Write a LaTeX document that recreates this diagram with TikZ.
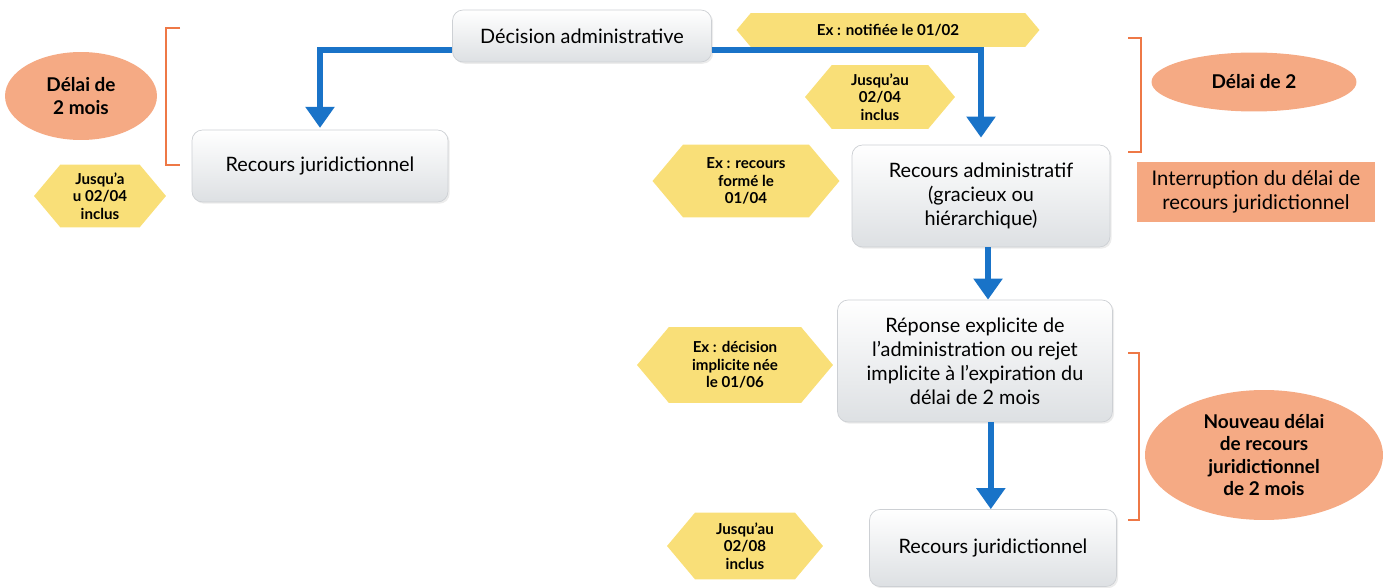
\documentclass[tikz,border=0pt]{standalone}
\usepackage{fontspec}
\setmainfont{Lato}
\usetikzlibrary{shapes.geometric,shapes.symbols,arrows.meta,shadows}
\definecolor{jaune}{HTML}{F9DF78}
\definecolor{saumon}{HTML}{F5AA84}
\definecolor{orangeb}{HTML}{EE7846}
\definecolor{bleu}{HTML}{1973C8}
\definecolor{grisb}{HTML}{DDE0E3}
\definecolor{grisc}{HTML}{CDD0D4}
\begin{document}
\begin{tikzpicture}[x=0.02cm, y=-0.02cm,
    etape/.style={rectangle, rounded corners=6pt, draw=grisc, top color=white, bottom color=grisb,
        drop shadow={shadow xshift=1pt, shadow yshift=-1pt, opacity=0.15},
        align=center, font=\fontsize{11.3}{13.6}\selectfont, inner sep=2pt},
    exemple/.style={signal, signal to=west and east, signal pointer angle=100, fill=jaune,
        align=center, font=\bfseries\fontsize{8.6}{10}\selectfont, inner sep=1pt},
    delai/.style={ellipse, fill=saumon, align=center, font=\bfseries\fontsize{10.8}{12.6}\selectfont, inner sep=0pt},
    fleche/.style={draw=bleu, line width=3.4pt, -{Triangle[width=16pt,length=12pt]}},
    crochet/.style={draw=orangeb, line width=1.4pt}]
    \useasboundingbox (0,0) rectangle (1384,588);
    % etapes
    \node[etape, minimum width=5.18cm, minimum height=1.04cm] (dec) at (582,36) {Décision administrative};
    \node[etape, minimum width=5.12cm, minimum height=1.44cm] (rjl) at (320,166) {Recours juridictionnel};
    \node[etape, minimum width=5.16cm, minimum height=2.04cm] (radm) at (981,196) {Recours administratif\\(gracieux ou\\hiérarchique)};
    \node[etape, minimum width=5.5cm, minimum height=2.44cm] (rep) at (975,361) {Réponse explicite de\\l’administration ou rejet\\implicite à l’expiration du\\délai de 2 mois};
    \node[etape, minimum width=4.94cm, minimum height=1.54cm] (rjb) at (993,548) {Recours juridictionnel};
    % exemples
    \node[exemple, minimum width=6.06cm, minimum height=0.68cm] (hnot) at (888,30) {Ex : notifiée le 01/02};
    \node[exemple, minimum width=3.0cm, minimum height=1.28cm] (hjqa) at (880,97) {Jusqu’au\\02/04\\inclus};
    \node[exemple, minimum width=2.64cm, minimum height=1.26cm] (hjql) at (100,196) {Jusqu’a\\u 02/04\\inclus};
    \node[exemple, minimum width=3.74cm, minimum height=1.46cm] (hform) at (746,181) {Ex : recours\\formé le\\01/04};
    \node[exemple, minimum width=3.92cm, minimum height=1.52cm] (himp) at (735,365) {Ex : décision\\implicite née\\le 01/06};
    \node[exemple, minimum width=3.12cm, minimum height=1.34cm] (hjqb) at (745,546) {Jusqu’au\\02/08\\inclus};
    % delais
    \node[delai, minimum width=3.04cm, minimum height=1.76cm] (dgauche) at (81,96) {Délai de\\2 mois};
    \node[delai, minimum width=4.1cm, minimum height=1.18cm] (ddroite) at (1254,82) {Délai de 2};
    \node[delai, minimum width=4.76cm, minimum height=2.6cm] (dnouv) at (1264,455) {Nouveau délai\\de recours\\juridictionnel\\de 2 mois};
    \node[rectangle, fill=saumon!95!orangeb, minimum width=4.76cm, minimum height=1.2cm, align=center,
        font=\fontsize{11.5}{14}\selectfont] (intr) at (1256,192) {Interruption du délai de\\recours juridictionnel};
    % fleches
    \draw[fleche] ([yshift=-8pt]dec.east) -| ([yshift=4pt]radm.north);
    \draw[fleche] ([yshift=-8pt]dec.west) -| ([yshift=1pt]rjl.north);
    \draw[fleche] ([xshift=4pt]radm.south) -- ([xshift=4pt]radm.south |- rep.north);
    \draw[fleche] ([xshift=9pt]rep.south) -- ([xshift=9pt]rep.south |- rjb.north);
    % crochets
    \draw[crochet] (180,28) -- (166,28) -- (166,165) -- (180,165);
    \draw[crochet] (1128,38) -- (1141,38) -- (1141,152) -- (1128,152);
    \draw[crochet] (1128,353) -- (1139,353) -- (1139,520) -- (1128,520);
\end{tikzpicture}
\end{document}
